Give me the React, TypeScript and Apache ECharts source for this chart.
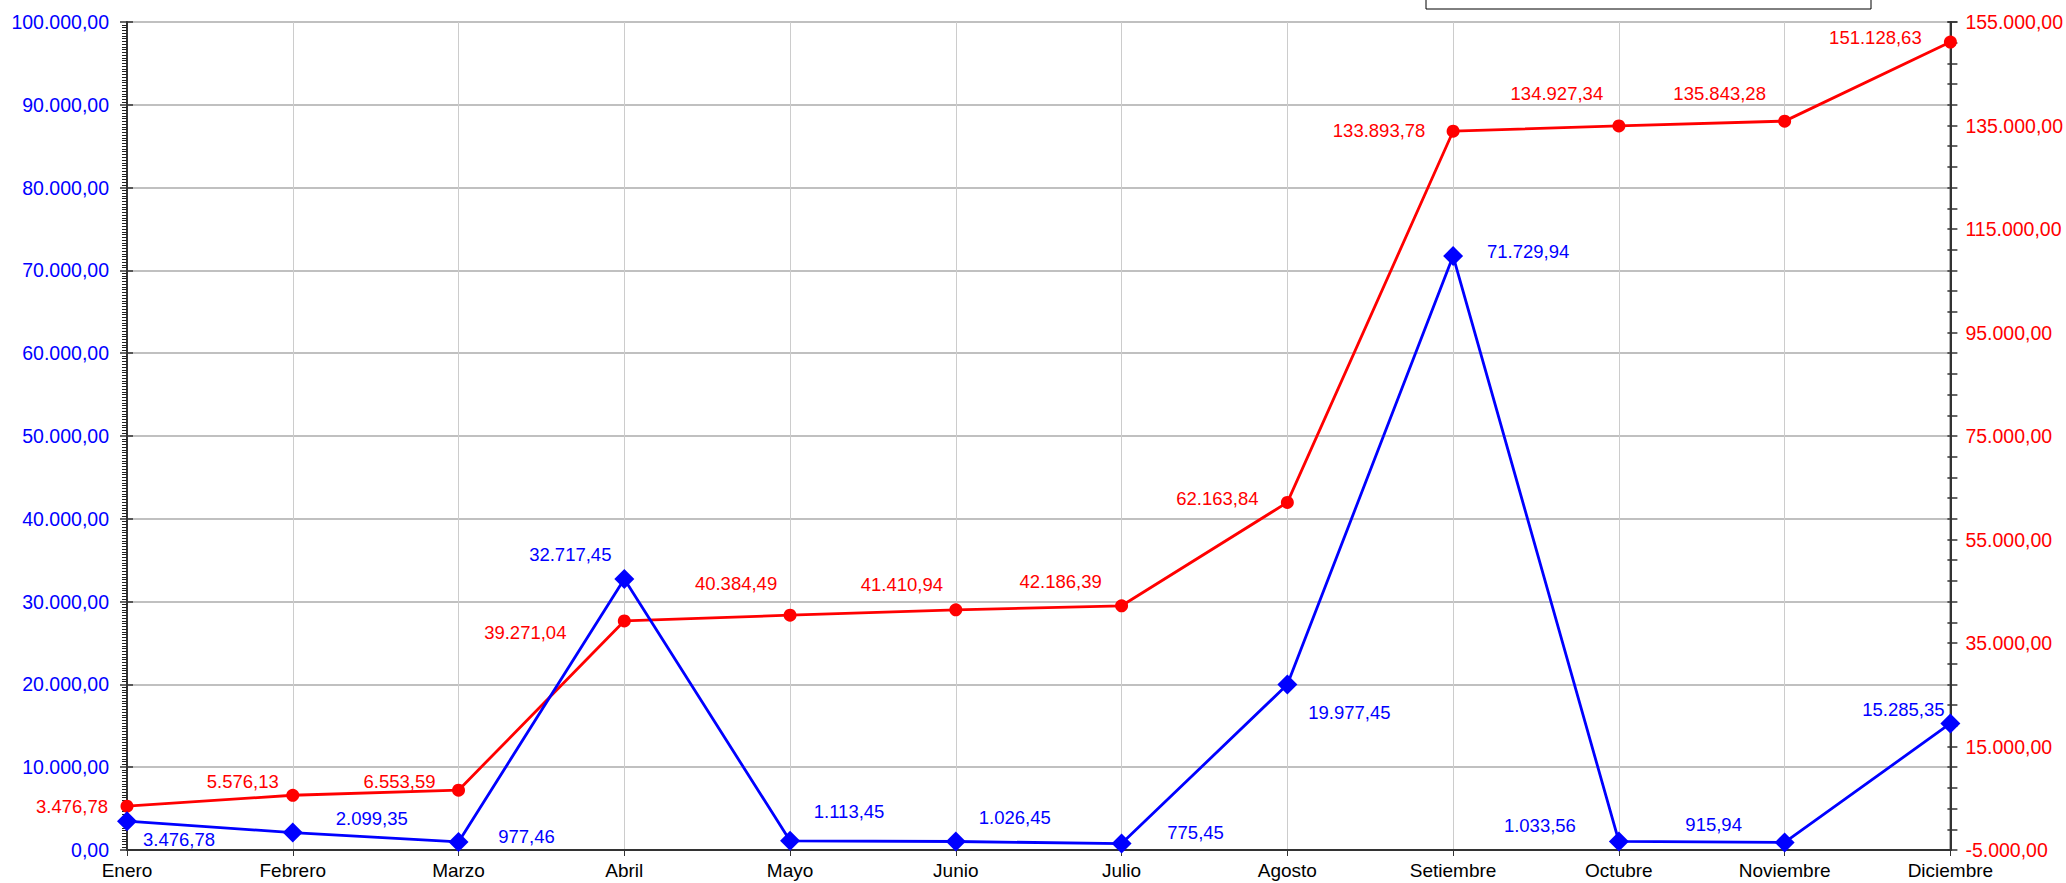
import React, { useEffect, useRef } from "react";
import * as echarts from "echarts";

const MONTHS = ["Enero", "Febrero", "Marzo", "Abril", "Mayo", "Junio", "Julio", "Agosto", "Setiembre", "Octubre", "Noviembre", "Diciembre"];
const MONTHLY = [3476.78, 2099.35, 977.46, 32717.45, 1113.45, 1026.45, 775.45, 19977.45, 71729.94, 1033.56, 915.94, 15285.35];
const CUMULATIVE = [3476.78, 5576.13, 6553.59, 39271.04, 40384.49, 41410.94, 42186.39, 62163.84, 133893.78, 134927.34, 135843.28, 151128.63];
const RIGHT_LABELS = [-5000, 15000, 35000, 55000, 75000, 95000, 115000, 135000, 155000];

// label offsets (style only)
const BLUE_OFF = [[52, 18], [79, -14], [68, -5], [-54, -25], [59, -29], [59, -24], [74, -11], [62, 28], [75, -5], [-79, -16], [-71, -18], [-47, -14]];
const RED_OFF = [[-55, 0], [-50, -14], [-59, -9], [-99, 12], [-54, -32], [-54, -25], [-61, -24], [-70, -4], [-74, -1], [-62, -32], [-65, -28], [-75, -5]];

function fmt(v: number): string {
  const neg = v < 0;
  const a = Math.abs(v);
  const s = a.toFixed(2);
  const [ip, dp] = s.split(".");
  const withDots = ip.replace(/\B(?=(\d{3})+(?!\d))/g, ".");
  return (neg ? "-" : "") + withDots + "," + dp;
}

const FONT = "Liberation Sans, Arial, sans-serif";

export default function App() {
  const ref = useRef<HTMLDivElement>(null);
  useEffect(() => {
    document.body.style.margin = "0";
    if (!ref.current) return;
    const chart = echarts.init(ref.current, null, { renderer: "svg" });
    const rightTicks: number[] = [];
    for (let v = -5000; v <= 155000; v += 4000) rightTicks.push(v);
    rightTicks.push(155000);
    chart.setOption({
      animation: false,
      backgroundColor: "#ffffff",
      textStyle: { fontFamily: FONT },
      grid: { left: 127, right: 113, top: 22, bottom: 33, show: true, borderColor: "#808080", borderWidth: 2, backgroundColor: "transparent" },
      graphic: [
        { type: "rect", shape: { x: 1426, y: -30, width: 445, height: 39 }, style: { fill: "#fff", stroke: "#000", lineWidth: 1 }, z: 10 },
      ],
      xAxis: {
        type: "category",
        data: MONTHS,
        boundaryGap: false,
        axisLine: { lineStyle: { color: "#333", width: 2 } },
        axisTick: { show: true, length: 6, lineStyle: { color: "#333" } },
        axisLabel: { color: "#000", fontSize: 19, margin: 11, fontFamily: FONT },
        splitLine: { show: true, lineStyle: { color: "#cccccc", width: 1 } },
      },
      yAxis: [
        {
          type: "value",
          min: 0,
          max: 100000,
          interval: 10000,
          position: "left",
          axisLine: { show: true, lineStyle: { color: "#333", width: 2 } },
          axisTick: { show: true, length: 7, lineStyle: { color: "#333", width: 1.5 } },
          minorTick: { show: true, splitNumber: 30, length: 5, lineStyle: { color: "#222", width: 1 } },
          axisLabel: { color: "#0000ff", fontSize: 19.5, margin: 18, fontFamily: FONT, formatter: (v: number) => fmt(v) },
          splitLine: { show: true, lineStyle: { color: "#c0c0c0", width: 2 } },
        },
        {
          type: "value",
          min: -5000,
          max: 155000,
          position: "right",
          axisLine: { show: true, lineStyle: { color: "#333", width: 2 } },
          axisTick: { show: true, length: 7, customValues: rightTicks, lineStyle: { color: "#333", width: 1.5 } },
          axisLabel: { color: "#ff0000", fontSize: 19.5, margin: 15, fontFamily: FONT, customValues: RIGHT_LABELS, formatter: (v: number) => fmt(v) },
          splitLine: { show: false },
        },
        {
          type: "value",
          min: 0,
          max: 100000,
          interval: 10000,
          position: "left",
          axisLine: { show: false },
          axisTick: { show: true, inside: true, length: 6, lineStyle: { color: "#333", width: 1.5 } },
          axisLabel: { show: false },
          splitLine: { show: false },
        },
        {
          type: "value",
          min: -5000,
          max: 155000,
          position: "right",
          axisLine: { show: false },
          axisTick: { show: true, inside: true, length: 3, customValues: rightTicks, lineStyle: { color: "#333", width: 1.5 } },
          axisLabel: { show: false },
          splitLine: { show: false },
        },
      ],
      series: [
        {
          type: "line",
          yAxisIndex: 1,
          data: CUMULATIVE.map((v, i) => ({ value: v, label: { offset: RED_OFF[i] } })),
          symbol: "circle",
          symbolSize: 13,
          lineStyle: { color: "#ff0000", width: 2.8 },
          itemStyle: { color: "#ff0000" },
          label: { show: true, position: "inside", color: "#ff0000", fontSize: 18.5, fontFamily: FONT, formatter: (p: any) => fmt(p.value) },
          z: 3,
        },
        {
          type: "line",
          yAxisIndex: 0,
          data: MONTHLY.map((v, i) => ({ value: v, label: { offset: BLUE_OFF[i] } })),
          symbol: "diamond",
          symbolSize: 20,
          lineStyle: { color: "#0000ff", width: 2.8 },
          itemStyle: { color: "#0000ff" },
          label: { show: true, position: "inside", color: "#0000ff", fontSize: 18.5, fontFamily: FONT, formatter: (p: any) => fmt(p.value) },
          z: 4,
        },
      ],
    });
    return () => chart.dispose();
  }, []);
  return <div ref={ref} style={{ width: 2066, height: 883 }} />;
}
